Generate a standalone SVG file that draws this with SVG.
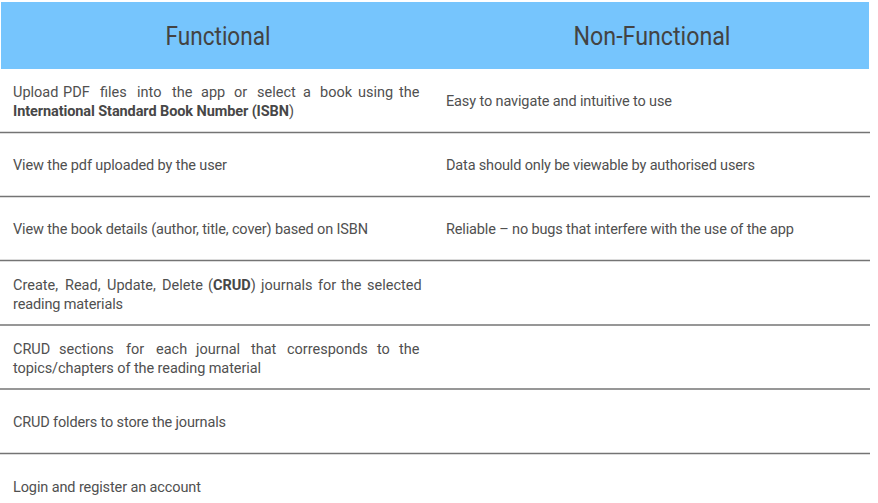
<svg xmlns="http://www.w3.org/2000/svg" width="878" height="503" viewBox="0 0 878 503">
<style>
.bg{fill:#ffffff}
.hdr{fill:#76c5fd}
.ht{font-family:Roboto,"Liberation Sans",sans-serif;font-size:26px;fill:#434343;text-anchor:middle}
.t{font-family:Roboto,"Liberation Sans",sans-serif;font-size:14.5px;fill:#505050}
.b{font-weight:bold;fill:#474747}
.rule{stroke:#747474;stroke-width:1.5;fill:none}
</style>
<rect class="bg" x="0" y="0" width="878" height="503"/>
<g id="header">
<rect class="hdr" x="1" y="2" width="868" height="67"/>
<text class="ht" x="218" y="45" textLength="105" lengthAdjust="spacingAndGlyphs">Functional</text>
<text class="ht" x="652" y="45" textLength="157" lengthAdjust="spacingAndGlyphs">Non-Functional</text>
</g>
<g id="rules">
<line class="rule" x1="0" y1="132.5" x2="870" y2="132.5"/>
<line class="rule" x1="0" y1="196.5" x2="870" y2="196.5"/>
<line class="rule" x1="0" y1="260.5" x2="870" y2="260.5"/>
<line class="rule" x1="0" y1="325" x2="870" y2="325"/>
<line class="rule" x1="0" y1="389" x2="870" y2="389"/>
<line class="rule" x1="0" y1="453.5" x2="870" y2="453.5"/>
</g>
<g id="row1">
<text class="t" y="97"><tspan x="13">Upload</tspan><tspan x="63">PDF</tspan><tspan x="100">files</tspan><tspan x="137">into</tspan><tspan x="172">the</tspan><tspan x="201">app</tspan><tspan x="234">or</tspan><tspan x="257">select</tspan><tspan x="303">a</tspan><tspan x="320">book</tspan><tspan x="358">using</tspan><tspan x="399">the</tspan></text>
<text class="t" x="13" y="116"><tspan class="b" textLength="276" lengthAdjust="spacing">International Standard Book Number (ISBN</tspan>)</text>
<text class="t" x="446" y="106" textLength="226" lengthAdjust="spacing">Easy to navigate and intuitive to use</text>
</g>
<g id="row2">
<text class="t" x="13" y="170" textLength="214" lengthAdjust="spacing">View the pdf uploaded by the user</text>
<text class="t" x="446" y="170" textLength="309" lengthAdjust="spacing">Data should only be viewable by authorised users</text>
</g>
<g id="row3">
<text class="t" x="13" y="234" textLength="355" lengthAdjust="spacing">View the book details (author, title, cover) based on ISBN</text>
<text class="t" x="446" y="234" textLength="348" lengthAdjust="spacing">Reliable – no bugs that interfere with the use of the app</text>
</g>
<g id="row4">
<text class="t" y="290"><tspan x="13">Create,</tspan><tspan x="65">Read,</tspan><tspan x="107">Update,</tspan><tspan x="162">Delete</tspan><tspan x="208">(<tspan class="b">CRUD</tspan>)</tspan><tspan x="261">journals</tspan><tspan x="318">for</tspan><tspan x="341">the</tspan><tspan x="367">selected</tspan></text>
<text class="t" x="13" y="309" textLength="110" lengthAdjust="spacing">reading materials</text>
</g>
<g id="row5">
<text class="t" y="354"><tspan x="13">CRUD</tspan><tspan x="59">sections</tspan><tspan x="126">for</tspan><tspan x="156">each</tspan><tspan x="196">journal</tspan><tspan x="251">that</tspan><tspan x="287">corresponds</tspan><tspan x="377">to</tspan><tspan x="399">the</tspan></text>
<text class="t" x="13" y="373" textLength="248" lengthAdjust="spacing">topics/chapters of the reading material</text>
</g>
<g id="row6">
<text class="t" x="13" y="427" textLength="213" lengthAdjust="spacing">CRUD folders to store the journals</text>
</g>
<g id="row7">
<text class="t" x="13" y="492" textLength="188" lengthAdjust="spacing">Login and register an account</text>
</g>
</svg>
